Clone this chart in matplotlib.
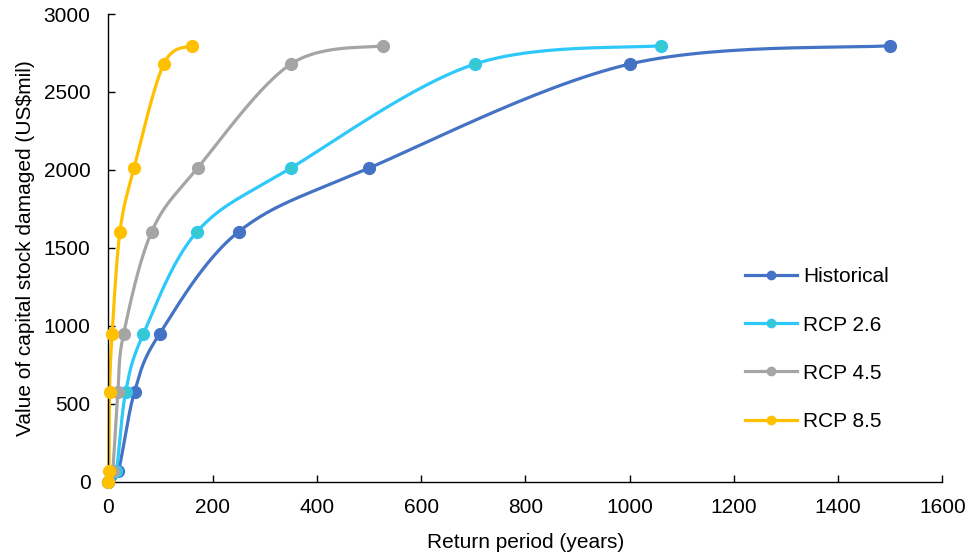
import numpy as np
import matplotlib
matplotlib.use("Agg")
import matplotlib.pyplot as plt

# Data (return period in years, damage in US$ mil)
damage = [0, 70, 577, 948, 1604, 2012, 2679, 2797]
hist_x = [0, 19, 50, 98, 250, 500, 1000, 1500]
rcp26_x = [0, 15, 33, 67, 170, 350, 703, 1060]
rcp45_x = [0, 8, 18, 29, 83, 171, 350, 527]
rcp85_x = [0, 1, 2, 7, 22, 49, 106, 160]
series_names = ["Historical", "RCP 2.6", "RCP 4.5", "RCP 8.5"]

plt.rcParams['font.family'] = ['Liberation Sans', 'DejaVu Sans']

fig = plt.figure(figsize=(9.72, 5.54), dpi=100)
ax = fig.add_axes([0.1116, 0.1305, 0.8578, 0.8442])

XMAX, YMAX = 1600, 3000
sx = 833.8 / XMAX
sy = 467.7 / YMAX


def smooth(xs, ys, n=30):
    # Excel-like smoothing: Bezier with Catmull-Rom control points in pixel space
    P = np.column_stack([np.asarray(xs, float) * sx, np.asarray(ys, float) * sy])
    m = len(P)
    out = [P[0]]
    t = np.linspace(0, 1, n)[1:]
    for i in range(m - 1):
        p0 = P[i - 1] if i > 0 else P[i]
        p3 = P[i + 2] if i + 2 < m else P[i + 1]
        p1, p2 = P[i], P[i + 1]
        c1 = p1 + (p2 - p0) / 6.0
        c2 = p2 - (p3 - p1) / 6.0
        for tt in t:
            b = ((1 - tt) ** 3) * p1 + 3 * ((1 - tt) ** 2) * tt * c1 + 3 * (1 - tt) * tt ** 2 * c2 + tt ** 3 * p2
            out.append(b)
    out = np.array(out)
    return out[:, 0] / sx, out[:, 1] / sy


styles = [
    dict(color="#4472C4", mfc="#4472C4", mec="#4472C4"),
    dict(color="#2EC8FA", mfc="#36C9CF", mec="#2EC8FA"),
    dict(color="#A5A5A5", mfc="#A5A5A5", mec="#A5A5A5"),
    dict(color="#FFC000", mfc="#FFC000", mec="#FFC000"),
]

for xs, name, st in zip([hist_x, rcp26_x, rcp45_x, rcp85_x], series_names, styles):
    cx, cy = smooth(xs, damage)
    ax.plot(cx, cy, color=st["color"], lw=2.3, solid_capstyle="round", clip_on=False, zorder=2)
    ax.plot(xs, damage, linestyle="none", marker="o", ms=8.5, mfc=st["mfc"], mec=st["mec"],
            mew=1.0, clip_on=False, zorder=3)
    ax.plot([], [], color=st["color"], lw=2.3, marker="o", ms=6, mfc=st["mfc"], mec=st["mec"],
            label=name)

ax.set_xlim(0, XMAX)
ax.set_ylim(0, YMAX)
ax.set_xticks(np.arange(0, 1601, 200))
ax.set_yticks(np.arange(0, 3001, 500))
for s in ["top", "right"]:
    ax.spines[s].set_visible(False)
for s in ["left", "bottom"]:
    ax.spines[s].set_color("black")
    ax.spines[s].set_linewidth(1.0)
ax.tick_params(direction="in", length=5, width=1.0, labelsize=15, colors="black")
ax.tick_params(axis="y", pad=13)
ax.tick_params(axis="x", pad=12)

ax.set_xlabel("Return period (years)", fontsize=15, labelpad=11)
ax.set_ylabel("Value of capital stock damaged (US$mil)", fontsize=15, labelpad=6)

leg = ax.legend(loc="upper left", bbox_to_anchor=(0.753, 0.476), frameon=False, fontsize=15,
                handlelength=2.5, labelspacing=1.4, handletextpad=0.3, borderaxespad=0)

fig.savefig("out.png", dpi=100)
